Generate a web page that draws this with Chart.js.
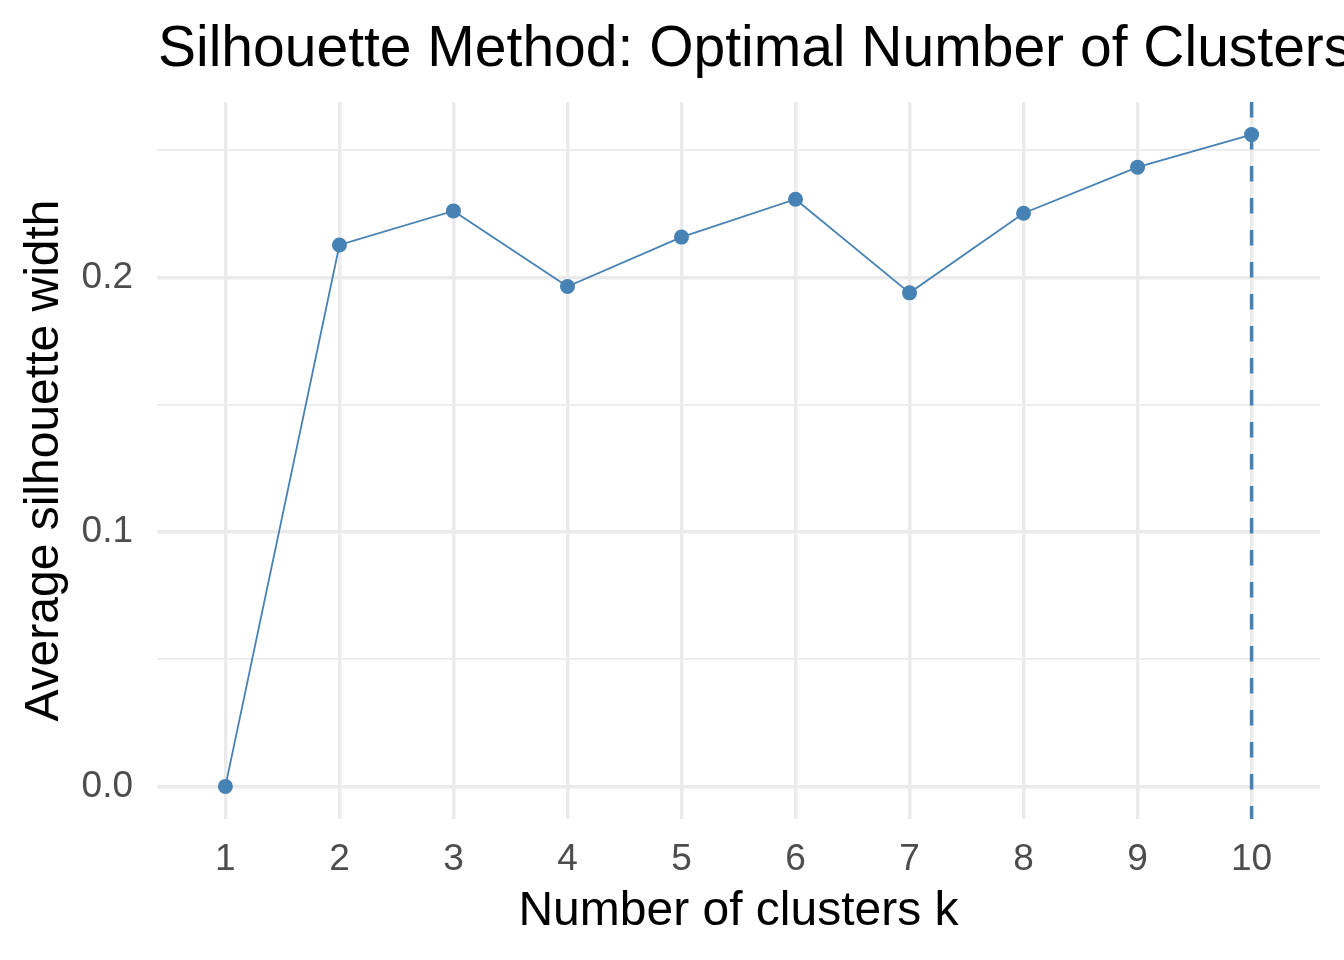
<!DOCTYPE html>
<html>
<head>
<meta charset="utf-8">
<title>Silhouette Method</title>
<script src="https://cdn.jsdelivr.net/npm/chart.js@4"></script>
<style>
  html, body { margin: 0; padding: 0; background: #fff; }
  #wrap { width: 1344px; height: 960px; }
</style>
</head>
<body>
<div id="wrap"><canvas id="myChart" width="1344" height="960"></canvas></div>
<script>
const clusters = [1, 2, 3, 4, 5, 6, 7, 8, 9, 10];
const silWidth = [0, 0.2128, 0.2262, 0.1965, 0.2159, 0.2308, 0.1940, 0.2253, 0.2434, 0.2562];
const yTicks = [0, 0.05, 0.1, 0.15, 0.2, 0.25];
const yLabels = ['0.0', '', '0.1', '', '0.2', ''];
const optimalK = 10;

const STEEL = '#4682B4';
const GRID = '#EBEBEB';
const FONT = "'Liberation Sans', Arial, sans-serif";

// ggplot style 5% expansion on y, 0.6 on discrete x
const yLo = Math.min(...silWidth), yHi = Math.max(...silWidth);
const yPad = (yHi - yLo) * 0.05;

const vlinePlugin = {
  id: 'vline',
  afterDatasetsDraw(chart) {
    const {ctx, chartArea, scales} = chart;
    const x = scales.x.getPixelForValue(optimalK);
    ctx.save();
    ctx.strokeStyle = STEEL;
    ctx.lineWidth = 3.5;
    ctx.setLineDash([15.5, 16.5]);
    ctx.beginPath();
    ctx.moveTo(x, chartArea.top);
    ctx.lineTo(x, chartArea.bottom);
    ctx.stroke();
    ctx.restore();
  }
};

const titlePlugin = {
  id: 'plotTitle',
  afterDraw(chart) {
    const {ctx, chartArea} = chart;
    ctx.save();
    ctx.fillStyle = '#000';
    ctx.font = `57px ${FONT}`;
    ctx.textAlign = 'left';
    ctx.textBaseline = 'alphabetic';
    ctx.fillText('Silhouette Method: Optimal Number of Clusters', chartArea.left + 1, 66);
    ctx.restore();
  }
};

const ctx = document.getElementById('myChart').getContext('2d');
new Chart(ctx, {
  type: 'line',
  data: {
    datasets: [{
      label: 'Average silhouette width',
      data: clusters.map((k, i) => ({x: k, y: silWidth[i]})),
      borderColor: STEEL,
      backgroundColor: STEEL,
      pointBackgroundColor: STEEL,
      pointBorderWidth: 0,
      pointRadius: 7.5,
      borderWidth: 1.8,
      tension: 0,
      fill: false
    }]
  },
  options: {
    responsive: false,
    animation: false,
    devicePixelRatio: 1,
    layout: { padding: { top: 102, right: 24, bottom: 0, left: 0 } },
    plugins: {
      legend: { display: false },
      tooltip: { enabled: false }
    },
    scales: {
      x: {
        type: 'linear',
        min: 0.4,
        max: 10.6,
        afterBuildTicks: (scale) => { scale.ticks = clusters.map(v => ({value: v})); },
        afterFit: (scale) => { scale.height = 141; },
        border: { display: false },
        grid: { color: GRID, lineWidth: 3.5, drawTicks: false, tickLength: 0 },
        ticks: {
          autoSkip: false, maxRotation: 0, padding: 19,
          color: '#4D4D4D', font: { family: FONT, size: 37 },
          callback: (v) => String(v)
        },
        title: {
          display: true, text: 'Number of clusters k', color: '#000',
          font: { family: FONT, size: 48 }, padding: { top: 0, bottom: 19 }
        }
      },
      y: {
        type: 'linear',
        min: yLo - yPad,
        max: yHi + yPad,
        afterBuildTicks: (scale) => { scale.ticks = yTicks.map(v => ({value: v})); },
        afterFit: (scale) => { scale.width = 157; },
        border: { display: false },
        grid: {
          color: GRID, drawTicks: false, tickLength: 0,
          lineWidth: (c) => (c.tick && yLabels[yTicks.indexOf(c.tick.value)] === '' ? 1.8 : 3.5)
        },
        ticks: {
          autoSkip: false, padding: 24,
          color: '#4D4D4D', font: { family: FONT, size: 37 },
          callback: (v) => { const i = yTicks.indexOf(v); return i >= 0 ? yLabels[i] : ''; }
        },
        title: {
          display: true, text: 'Average silhouette width', color: '#000',
          font: { family: FONT, size: 48 }, padding: { top: 16, bottom: 0 }
        }
      }
    }
  },
  plugins: [vlinePlugin, titlePlugin]
});
</script>
</body>
</html>
